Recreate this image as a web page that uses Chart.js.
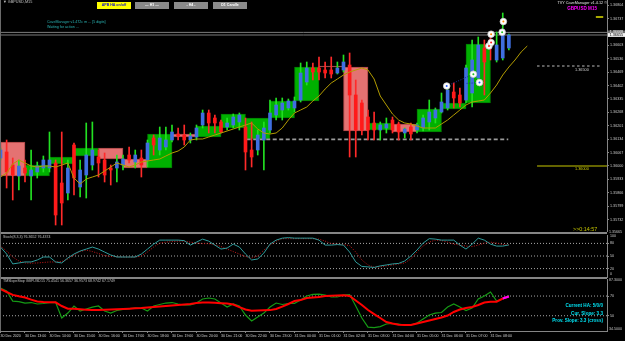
<!DOCTYPE html>
<html>
<head>
<meta charset="utf-8">
<title>GBPUSD,M15</title>
<script src="https://cdn.jsdelivr.net/npm/chart.js@4.4.1/dist/chart.umd.min.js"></script>
<style>
  html, body { margin:0; padding:0; background:#000; }
  #wrap { position:relative; width:625px; height:341px; overflow:hidden; background:#000; }
  #wrap canvas { position:absolute; left:0; top:0; }
  .sep { position:absolute; left:0; width:607px; height:2px; background:#858585; }
  .t { position:absolute; white-space:nowrap; line-height:1; font-family:"Liberation Sans", Arial, sans-serif; }
  .btn { position:absolute; top:2px; width:34px; height:7px; background:#8a8a8a; color:#fff; text-align:center;
         font:bold 3.6px "Liberation Sans", Arial, sans-serif; line-height:7px; }
</style>
</head>
<body>
<div id="wrap">
  <canvas id="cMain" width="625" height="341"></canvas>
  <canvas id="cStoch" width="625" height="341"></canvas>
  <canvas id="cSlope" width="625" height="341"></canvas>

  <div class="sep" style="top:232px"></div>
  <div class="sep" style="top:277px"></div>
  <div style="position:absolute;left:0;top:0;width:1px;height:331px;background:#6a6a6a"></div>

  <div class="t" style="left:3px;top:1px;font-size:3.8px;color:#c0c0c0">▼ GBPUSD,M15</div>
  <div class="btn" style="left:97px;background:#ffff00;color:#1414c8">APB HA on/off</div>
  <div class="btn" style="left:135px">— H1 —</div>
  <div class="btn" style="left:174px">- H4 -</div>
  <div class="btn" style="left:213px">D1 Candle</div>
  <div class="t" style="left:47px;top:20.8px;font-size:3.6px;color:#2ab4b4">CaveManager v1.472c m ... [5 digits]</div>
  <div class="t" style="left:47px;top:25.8px;font-size:3.6px;color:#2ab4b4">Waiting for action ...</div>
  <div class="t" style="right:18px;top:2px;font-size:3.8px;color:#e6e6e6">TVY CaveManager v1.4.12 ©</div>
  <div class="t" style="right:28px;top:6.8px;font-size:4.6px;font-weight:bold;color:#ff00ff">GBPUSD M15</div>
  <div class="t" style="left:573px;top:227.3px;font-size:5.4px;color:#c4c400">&gt;&gt;0:14:57</div>
  <div class="t" style="left:609px;top:231px;font-size:3.6px;color:#c8c8c8">1.35665</div>

  <div class="t" style="left:3px;top:236px;font-size:3.6px;color:#c0c0c0">Stoch(8,3,3) 76.3652 76.4374</div>
  <div class="t" style="left:610px;top:235px;font-size:3.6px;color:#c8c8c8">100</div>
  <div class="t" style="left:610px;top:272.6px;font-size:3.6px;color:#c8c8c8">0</div>

  <div class="t" style="left:3px;top:280.4px;font-size:3.6px;color:#c0c0c0">TMSlopeStop GBPUSD15 75.4541 56.3657 36.9573 68.9742 67.1749</div>
  <div class="t" style="left:609px;top:279.3px;font-size:3.6px;color:#c8c8c8">87.3000</div>
  <div class="t" style="left:609px;top:328.2px;font-size:3.6px;color:#c8c8c8">34.5000</div>
  <div class="t" style="right:22px;top:303.6px;font-size:4.6px;font-weight:bold;color:#00e0f0">Current HA: 5/0/0</div>
  <div class="t" style="right:22px;top:311.8px;font-size:4.6px;font-weight:bold;color:#00e0f0">Cur. Slope: 3.3</div>
  <div class="t" style="right:22px;top:319.3px;font-size:4.6px;font-weight:bold;color:#00e0f0">Prov. Slope: 3.3 (cross)</div>
</div>

<script>
// ── GBPUSD M15 — velas, HA H1, Stoch e TMSlope em três painéis ──

const FONT = '"Liberation Sans", Arial, sans-serif';

// eixo do tempo: um rótulo por hora (4 barras de M15)
const hourLabels = ['30 Dec 2020', '30 Dec 13:00', '30 Dec 14:00', '30 Dec 15:00', '30 Dec 16:00', '30 Dec 17:00',
  '30 Dec 18:00', '30 Dec 19:00', '30 Dec 20:00', '30 Dec 21:00', '30 Dec 22:00', '30 Dec 23:00', '31 Dec 00:00',
  '31 Dec 01:00', '31 Dec 02:00', '31 Dec 03:00', '31 Dec 04:00', '31 Dec 05:00', '31 Dec 06:00', '31 Dec 07:00',
  '31 Dec 08:00'];

const priceTicks = [1.36804, 1.36737, 1.36670, 1.36603, 1.36536, 1.36469, 1.36402, 1.36335, 1.36268,
  1.36201, 1.36134, 1.36067, 1.36000, 1.35933, 1.35866, 1.35799, 1.35732];

// velas M15
const openP = [1.36040, 1.36070, 1.36005, 1.35950, 1.35990, 1.35950, 1.35970, 1.35990, 1.35990, 1.36015, 1.35915, 1.35865,
  1.36105, 1.35895, 1.35955, 1.36005, 1.36045, 1.36030, 1.35990, 1.35990, 1.36005, 1.36055, 1.36020, 1.36040,
  1.36030, 1.36140, 1.36080, 1.36095, 1.36130, 1.36160, 1.36155, 1.36130, 1.36145, 1.36205, 1.36265, 1.36240,
  1.36220, 1.36195, 1.36205, 1.36220, 1.36195, 1.36080, 1.36080, 1.36130, 1.36180, 1.36255, 1.36280, 1.36290,
  1.36290, 1.36330, 1.36420, 1.36490, 1.36490, 1.36480, 1.36480, 1.36465, 1.36480, 1.36505, 1.36355, 1.36315,
  1.36245, 1.36215, 1.36180, 1.36190, 1.36230, 1.36210, 1.36165, 1.36195, 1.36180, 1.36190, 1.36220, 1.36240,
  1.36270, 1.36290, 1.36370, 1.36355, 1.36330, 1.36365, 1.36440, 1.36590, 1.36630, 1.36530, 1.36540, 1.36590];
const highP = [1.36090, 1.36130, 1.36040, 1.36030, 1.36030, 1.36080, 1.36020, 1.36050, 1.36170, 1.36030, 1.36170, 1.36030,
  1.36115, 1.36030, 1.36215, 1.36220, 1.36080, 1.36065, 1.36005, 1.36055, 1.36055, 1.36095, 1.36080, 1.36080,
  1.36130, 1.36155, 1.36195, 1.36195, 1.36205, 1.36190, 1.36205, 1.36165, 1.36205, 1.36280, 1.36280, 1.36255,
  1.36230, 1.36240, 1.36260, 1.36265, 1.36240, 1.36220, 1.36180, 1.36220, 1.36330, 1.36340, 1.36340, 1.36335,
  1.36345, 1.36515, 1.36520, 1.36515, 1.36545, 1.36520, 1.36545, 1.36520, 1.36555, 1.36565, 1.36430, 1.36330,
  1.36280, 1.36270, 1.36220, 1.36240, 1.36245, 1.36220, 1.36190, 1.36215, 1.36215, 1.36255, 1.36330, 1.36290,
  1.36365, 1.36405, 1.36415, 1.36390, 1.36505, 1.36630, 1.36645, 1.36630, 1.36670, 1.36670, 1.36765, 1.36660];
const lowP = [1.36030, 1.35890, 1.35830, 1.35880, 1.35920, 1.35830, 1.35940, 1.35970, 1.35970, 1.35705, 1.35705, 1.35830,
  1.35855, 1.35845, 1.35840, 1.35980, 1.35945, 1.35920, 1.35905, 1.35920, 1.35980, 1.36015, 1.35990, 1.35945,
  1.35995, 1.36055, 1.36055, 1.36080, 1.36120, 1.36130, 1.36105, 1.36115, 1.36130, 1.36190, 1.36165, 1.36165,
  1.36165, 1.36180, 1.36190, 1.36180, 1.35980, 1.35995, 1.36055, 1.35980, 1.36165, 1.36230, 1.36230, 1.36280,
  1.36270, 1.36320, 1.36405, 1.36430, 1.36430, 1.36440, 1.36440, 1.36460, 1.36470, 1.36045, 1.36045, 1.36155,
  1.36130, 1.36130, 1.36130, 1.36165, 1.36165, 1.36130, 1.36140, 1.36130, 1.36165, 1.36175, 1.36180, 1.36215,
  1.36265, 1.36280, 1.36290, 1.36295, 1.36315, 1.36295, 1.36430, 1.36355, 1.36530, 1.36520, 1.36530, 1.36580];
const closeP = [1.36080, 1.35970, 1.35955, 1.36000, 1.35965, 1.35980, 1.36000, 1.36030, 1.36030, 1.35755, 1.35815, 1.35990,
  1.35940, 1.35980, 1.36055, 1.36080, 1.36015, 1.35955, 1.35980, 1.36020, 1.36035, 1.36030, 1.36055, 1.36005,
  1.36115, 1.36105, 1.36140, 1.36130, 1.36170, 1.36150, 1.36130, 1.36150, 1.36190, 1.36265, 1.36215, 1.36215,
  1.36170, 1.36215, 1.36245, 1.36255, 1.36070, 1.36045, 1.36155, 1.36190, 1.36265, 1.36305, 1.36315, 1.36325,
  1.36325, 1.36465, 1.36490, 1.36470, 1.36470, 1.36465, 1.36460, 1.36490, 1.36520, 1.36355, 1.36180, 1.36180,
  1.36180, 1.36180, 1.36205, 1.36210, 1.36180, 1.36170, 1.36185, 1.36160, 1.36205, 1.36240, 1.36270, 1.36280,
  1.36320, 1.36380, 1.36340, 1.36315, 1.36490, 1.36530, 1.36605, 1.36520, 1.36600, 1.36605, 1.36680, 1.36655];

// média móvel deslocada (vai além da última barra)
const maLine = [1.35945, 1.35965, 1.36010, 1.36030, 1.36015, 1.36000, 1.35995, 1.36000, 1.36000, 1.35995,
  1.36005, 1.36015, 1.35940, 1.35910, 1.35935, 1.35945, 1.35955, 1.35975, 1.35995, 1.36015,
  1.36005, 1.35995, 1.36005, 1.36020, 1.36025, 1.36030, 1.36035, 1.36050, 1.36065, 1.36075,
  1.36095, 1.36130, 1.36135, 1.36135, 1.36145, 1.36155, 1.36165, 1.36175, 1.36185, 1.36195,
  1.36205, 1.36215, 1.36185, 1.36165, 1.36160, 1.36165, 1.36190, 1.36230, 1.36265, 1.36280,
  1.36295, 1.36325, 1.36350, 1.36385, 1.36415, 1.36435, 1.36455, 1.36470, 1.36480, 1.36490,
  1.36480, 1.36435, 1.36350, 1.36305, 1.36260, 1.36230, 1.36215, 1.36210, 1.36200, 1.36190,
  1.36190, 1.36190, 1.36210, 1.36230, 1.36255, 1.36280, 1.36305, 1.36320, 1.36325, 1.36330,
  1.36365, 1.36405, 1.36455, 1.36495, 1.36530, 1.36570, 1.36600];

// Heikin-Ashi H1 (abertura / fecho de cada hora)
const haOpen  = [1.36120, 1.35950, 1.36010, 1.36050, 1.36090, 1.36035, 1.35990, 1.36160, 1.36145, 1.36190,
  1.36135, 1.36240, 1.36325, 1.36500, 1.36495, 1.36180, 1.36210, 1.36170, 1.36285, 1.36315];
const haClose = [1.35950, 1.36005, 1.36045, 1.36090, 1.36035, 1.35990, 1.36160, 1.36145, 1.36200, 1.36260,
  1.36240, 1.36325, 1.36495, 1.36495, 1.36175, 1.36215, 1.36170, 1.36285, 1.36315, 1.36610];

// sinais (círculos) e níveis
const signalX = [72.85, 77.2, 78.2, 79.75, 80.1, 80.1, 81.9, 82.1];
const signalY = [1.36400, 1.36459, 1.36417, 1.36600, 1.36617, 1.36659, 1.36669, 1.36722];
const supportLevel = 1.36133;
const targetLevel  = 1.36500;
const pivotLevel   = 1.36000;
const topMark      = 1.36745;
const bidPrice = 1.36655;
const askPrice = 1.36668;

// Stoch(8,3,3)
const stochMain = [71.3, 54.7, 31.1, 33.4, 35.8, 35.8, 40.5, 47.6, 47.6, 35.8, 33.4, 45.3,
  54.7, 61.8, 66.5, 71.3, 66.5, 59.4, 52.4, 47.6, 47.6, 47.6, 47.6, 54.7,
  66.5, 78.3, 87.8, 87.8, 87.8, 87.8, 86.6, 76.0, 83.1, 90.2, 85.4, 76.0,
  66.5, 68.9, 78.3, 71.3, 54.7, 40.5, 42.9, 57.1, 78.3, 87.8, 92.5, 93.7,
  92.5, 92.5, 92.5, 92.5, 87.8, 76.0, 76.0, 77.2, 76.0, 59.4, 35.8, 25.2,
  24.0, 22.8, 26.4, 28.7, 31.1, 32.3, 38.2, 50.0, 64.2, 80.7, 91.3, 90.2,
  87.8, 87.8, 87.8, 76.0, 66.5, 78.3, 92.5, 87.8, 78.3, 73.6, 73.6, 76.4];
const stochSignal = [73.6, 61.8, 47.6, 38.2, 33.4, 32.8, 33.4, 34.6, 35.8, 35.8, 37.0, 42.9,
  52.4, 60.6, 64.2, 60.6, 55.9, 51.2, 48.8, 48.3, 47.6, 47.6, 47.6, 50.0,
  59.4, 71.3, 80.7, 83.1, 84.2, 85.4, 85.4, 83.1, 80.7, 79.5, 79.5, 77.2,
  72.4, 66.5, 60.6, 54.7, 48.8, 45.3, 50.0, 64.2, 76.0, 85.4, 91.3, 91.3,
  91.3, 91.3, 91.3, 91.3, 90.2, 85.4, 79.5, 78.3, 77.2, 74.8, 59.4, 40.5,
  28.7, 23.3, 24.0, 26.4, 28.7, 31.1, 33.4, 42.9, 59.4, 73.6, 83.1, 87.8,
  86.6, 83.1, 78.3, 76.0, 73.6, 72.4, 76.0, 80.7, 83.1, 80.7, 77.2, 76.4];
const stochLevels = [80, 50, 20];

// TMSlopeStop
const slopeFast = [78.1, 75.1, 64.9, 64.4, 62.9, 63.4, 61.9, 62.4, 63.4, 63.6, 47.7, 52.7,
  59.9, 54.8, 56.8, 58.8, 59.9, 54.8, 52.7, 55.3, 56.3, 57.3, 57.8, 57.8,
  54.8, 59.9, 61.4, 62.9, 63.4, 61.9, 60.9, 60.9, 62.9, 67.0, 68.0, 67.0,
  62.9, 58.8, 61.9, 59.9, 50.7, 44.6, 48.7, 52.7, 58.8, 62.9, 61.4, 62.4,
  62.6, 65.9, 70.0, 71.7, 72.0, 71.0, 69.0, 69.0, 71.0, 71.5, 59.9, 47.7,
  38.5, 38.0, 39.0, 41.6, 42.1, 41.6, 40.6, 40.6, 42.6, 46.7, 50.7, 52.7,
  53.3, 58.8, 61.9, 58.8, 55.3, 57.8, 67.0, 70.0, 74.1, 64.9, 67.0, 70.5];
const slopeSlow = [77.1, 74.1, 71.2, 69.7, 68.5, 66.4, 64.4, 63.9, 63.7, 63.6, 59.9, 57.2,
  57.0, 56.5, 56.1, 55.8, 55.9, 56.1, 56.3, 56.5, 56.8, 57.1, 57.5, 57.8,
  58.3, 58.8, 59.3, 59.9, 60.4, 60.9, 61.4, 61.9, 62.9, 63.4, 63.4, 63.1,
  62.7, 62.4, 61.4, 58.8, 56.3, 55.1, 55.3, 55.5, 55.7, 56.8, 59.3, 61.9,
  64.9, 65.9, 68.0, 68.5, 69.0, 70.0, 70.3, 70.5, 70.8, 70.0, 65.4, 60.9,
  55.8, 51.7, 47.7, 43.6, 42.1, 40.9, 40.6, 40.6, 42.1, 43.6, 45.1, 46.7,
  48.2, 50.2, 53.8, 56.3, 57.8, 58.8, 60.9, 63.4, 64.2, 64.2, 67.5, 69.5];
const slopeLevels = [70, 50];

// ── estilo ──
const X_MIN = -0.08, X_MAX = 99.02;
const BULL_BODY = '#3f6fe0', BEAR_BODY = '#ff1a1a';
const BULL_WICK = '#22e022', BEAR_WICK = '#ff2a2a';
const HA_UP = '#00b000', HA_UP_EDGE = '#007c00', HA_DN = '#e47272', HA_DN_EDGE = '#a84444';
const dotColors = ['#2a5cff', '#20c020', '#2a5cff', '#ff2020', '#ff2020', '#ff8a00', '#20c020', '#ff8a00'];

const isBull = i => closeP[i] >= openP[i];
const pts = arr => arr.map((v, i) => ({ x: i, y: v }));
const hLine = (y, x1, x2) => [{ x: x1, y }, { x: x2, y }];

function baseOptions(padTop, padBottom) {
  return {
    responsive: false, animation: false, devicePixelRatio: 1, events: [],
    layout: { autoPadding: false, padding: { top: padTop, bottom: padBottom, left: 0, right: 0 } },
    plugins: { legend: { display: false }, tooltip: { enabled: false } }
  };
}

function hiddenX() {
  return { type: 'linear', min: X_MIN, max: X_MAX, offset: false, display: false };
}

function rightAxis(min, max, ticks, fmt) {
  return {
    type: 'linear', position: 'right', min, max,
    afterBuildTicks: s => { s.ticks = ticks.map(v => ({ value: v })); },
    afterFit: s => { s.width = 18; s.paddingTop = 0; s.paddingBottom = 0; },
    grid: { display: true, drawOnChartArea: false, drawTicks: true, tickLength: 2, color: '#858585' },
    border: { display: true, color: '#858585' },
    ticks: { autoSkip: false, padding: 1, color: '#c8c8c8', font: { size: 3.7, family: FONT }, callback: fmt }
  };
}

// etiquetas bid/ask no eixo e legendas dos níveis
const priceTags = {
  id: 'priceTags',
  afterDraw(chart) {
    const { ctx, chartArea, scales: { x, y } } = chart;
    ctx.save();
    ctx.font = '3.8px ' + FONT;
    ctx.textBaseline = 'middle';
    ctx.textAlign = 'left';
    ctx.fillStyle = '#cfcfcf';
    ctx.fillText(targetLevel.toFixed(5), x.getPixelForValue(93.8), y.getPixelForValue(targetLevel) + 3.6);
    ctx.fillStyle = '#d2d200';
    ctx.fillText(pivotLevel.toFixed(5), x.getPixelForValue(93.8), y.getPixelForValue(pivotLevel) + 2.8);
    const tag = (v, bg, fg) => {
      const py = y.getPixelForValue(v);
      ctx.fillStyle = bg;
      ctx.fillRect(chartArea.right + 1, py - 1.9, 17, 3.8);
      ctx.fillStyle = fg;
      ctx.fillText(v.toFixed(5), chartArea.right + 2.5, py);
    };
    tag(askPrice, '#6e6e6e', '#ececec');
    tag(bidPrice, '#f2f2f2', '#000000');
    ctx.restore();
  }
};

// ── painel principal ──
const mainOpts = baseOptions(0, 110);
mainOpts.scales = {
  x: hiddenX(),
  xh: hiddenX(),
  y: rightAxis(1.35675, 1.36830, priceTicks, v => v.toFixed(5))
};

new Chart(document.getElementById('cMain'), {
  type: 'bar',
  data: {
    datasets: [
      { type: 'line', data: hLine(askPrice, X_MIN, X_MAX), borderColor: '#7c7c7c', borderWidth: 1, pointRadius: 0, order: 20 },
      { type: 'line', data: hLine(bidPrice, X_MIN, X_MAX), borderColor: '#7c7c7c', borderWidth: 1, pointRadius: 0, order: 20 },
      {
        label: 'HA H1', xAxisID: 'xh',
        data: haOpen.map((o, h) => ({ x: 4 * h + 2, y: [o, haClose[h]] })),
        backgroundColor: haOpen.map((o, h) => haClose[h] >= o ? HA_UP : HA_DN),
        borderColor: haOpen.map((o, h) => haClose[h] >= o ? HA_UP_EDGE : HA_DN_EDGE),
        borderWidth: 1, borderSkipped: false, grouped: false, barThickness: 24.5, minBarLength: 1, order: 15
      },
      { type: 'line', data: hLine(supportLevel, 40.2, 82.9), borderColor: '#9a9a9a', borderWidth: 1.6, borderDash: [4, 2.5], pointRadius: 0, order: 14 },
      { type: 'line', data: hLine(targetLevel, 87.6, 98.2), borderColor: '#bdbdbd', borderWidth: 1, borderDash: [2.5, 2.5], pointRadius: 0, order: 14 },
      { type: 'line', data: hLine(pivotLevel, 87.6, X_MAX), borderColor: '#c8c800', borderWidth: 1, pointRadius: 0, order: 14 },
      { type: 'line', data: hLine(topMark, 97.2, 98.4), borderColor: '#e0e000', borderWidth: 1.5, pointRadius: 0, order: 14 },
      {
        label: 'wicks', data: lowP.map((l, i) => ({ x: i, y: [l, highP[i]] })),
        backgroundColor: lowP.map((l, i) => isBull(i) ? BULL_WICK : BEAR_WICK),
        borderWidth: 0, grouped: false, barThickness: 1, maxBarThickness: 1, order: 12
      },
      {
        label: 'bodies', data: openP.map((o, i) => ({ x: i, y: [o, closeP[i]] })),
        backgroundColor: openP.map((o, i) => isBull(i) ? BULL_BODY : BEAR_BODY),
        borderWidth: 0, grouped: false, barThickness: 3, maxBarThickness: 3, minBarLength: 1, order: 11
      },
      { type: 'line', label: 'MA', data: pts(maLine), borderColor: '#b39c00', borderWidth: 1, pointRadius: 0, tension: 0, order: 8 },
      { type: 'line', data: [{ x: signalX[0], y: signalY[0] }, { x: signalX[1], y: signalY[1] }], borderColor: '#1c2c9a', borderWidth: 1, borderDash: [1, 1.5], pointRadius: 0, order: 7 },
      { type: 'line', data: [{ x: 76.1, y: 1.36413 }, { x: signalX[2], y: signalY[2] }], borderColor: '#1c2c9a', borderWidth: 1, borderDash: [1, 1.5], pointRadius: 0, order: 7 },
      {
        type: 'line', label: 'signals', showLine: false,
        data: signalX.map((x, k) => ({ x, y: signalY[k] })),
        pointRadius: 3.3, pointBackgroundColor: '#ffffff', pointBorderColor: '#cfcfcf', pointBorderWidth: 0.8, order: 2
      },
      {
        type: 'line', label: 'signal dots', showLine: false,
        data: signalX.map((x, k) => ({ x, y: signalY[k] })),
        pointRadius: 1, pointBackgroundColor: dotColors, pointBorderWidth: 0, order: 1
      }
    ]
  },
  options: mainOpts,
  plugins: [priceTags]
});

// ── Stoch ──
const stochOpts = baseOptions(235, 64);
stochOpts.scales = { x: hiddenX(), y: rightAxis(0, 100, stochLevels, v => String(v)) };

new Chart(document.getElementById('cStoch'), {
  type: 'line',
  data: {
    datasets: [
      ...stochLevels.map(v => ({ data: hLine(v, X_MIN, X_MAX), borderColor: '#a8a8a8', borderWidth: 1, borderDash: [1, 2], pointRadius: 0, order: 5 })),
      { label: 'signal', data: pts(stochSignal), borderColor: '#c81818', borderWidth: 1, borderDash: [1, 1.5], pointRadius: 0, order: 2 },
      { label: 'main', data: pts(stochMain), borderColor: '#2f9c9c', borderWidth: 1, pointRadius: 0, order: 1 }
    ]
  },
  options: stochOpts
});

// ── TMSlopeStop + eixo do tempo ──
const slopeOpts = baseOptions(279, 0);
slopeOpts.scales = {
  x: {
    type: 'linear', position: 'bottom', min: X_MIN, max: X_MAX, offset: false,
    afterBuildTicks: s => { s.ticks = hourLabels.map((_, k) => ({ value: k * 4 })); },
    afterFit: s => { s.height = 10; s.paddingLeft = 0; s.paddingRight = 0; },
    grid: { display: true, drawOnChartArea: false, drawTicks: true, tickLength: 2, color: '#858585' },
    border: { display: true, color: '#858585' },
    ticks: {
      autoSkip: false, maxRotation: 0, minRotation: 0, align: 'start', padding: 1,
      color: '#d0d0d0', font: { size: 3.6, family: FONT },
      callback: (v, k) => hourLabels[k]
    }
  },
  y: rightAxis(34.5, 87.3, slopeLevels, v => String(v))
};

new Chart(document.getElementById('cSlope'), {
  type: 'line',
  data: {
    datasets: [
      ...slopeLevels.map(v => ({ data: hLine(v, X_MIN, X_MAX), borderColor: '#a8a8a8', borderWidth: 1, borderDash: [1, 2], pointRadius: 0, order: 5 })),
      { label: 'fast', data: pts(slopeFast), borderColor: '#159a15', borderWidth: 1.2, pointRadius: 0, order: 3 },
      { label: 'slow', data: pts(slopeSlow), borderColor: '#ff0000', borderWidth: 2, pointRadius: 0, order: 2 },
      { label: 'tail', data: pts(slopeSlow).slice(-2), borderColor: '#ff00ff', borderWidth: 2, pointRadius: 0, order: 1 }
    ]
  },
  options: slopeOpts
});
</script>
</body>
</html>
